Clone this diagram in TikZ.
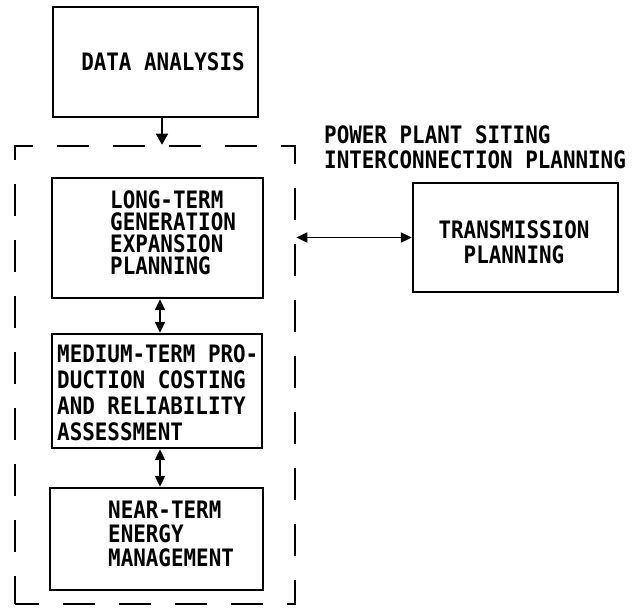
\documentclass[tikz,border=0pt]{standalone}
\usepackage{fontspec}
\newfontfamily\typefont[FakeStretch=0.87]{DejaVu Sans Mono Bold}
\usetikzlibrary{arrows.meta}

\begin{document}
\begin{tikzpicture}[x=1pt,y=-1pt]
\tikzset{block/.style={draw,line width=2.3pt},
         group/.style={draw,line width=2.6pt,dash pattern=on 32pt off 24pt,dash phase=8pt},
         txt/.style={inner sep=0pt,font=\typefont\fontsize{24}{#1}\selectfont},
         txt/.default=24,
         link/.style={line width=1.8pt,{Triangle[length=11pt,width=10pt]}-{Triangle[length=11pt,width=10pt]}},
         feed/.style={line width=1.8pt,-{Triangle[length=11pt,width=12pt]}}}
\useasboundingbox (0,0) rectangle (635,609);

% the boxes: name / centre / width / height
\foreach \name/\cx/\cy/\w/\h in {data/155.5/62/205/110, long/157.5/238/211/120,
    medium/157/391/210/114, near/156.5/539/213/102, trans/515.5/237.5/205/109}
{
    \node[block,minimum width=\w,minimum height=\h] (\name) at (\cx,\cy) {};
}
% the dashed frame round the three planning levels
\node[group,minimum width=280,minimum height=458] (frame) at (155,375) {};

% texts
\node[txt] (datatxt) at (163,62) {DATA ANALYSIS};
\node[txt=22,anchor=west,align=left] (longtxt) at (110,232.5) {LONG-TERM\\GENERATION\\EXPANSION\\PLANNING};
\node[txt=26,anchor=west,align=left] (mediumtxt) at (57,392.5) {MEDIUM-TERM PRO-\\DUCTION COSTING\\AND RELIABILITY\\ASSESSMENT};
\node[txt,anchor=west,align=left] (neartxt) at (108,534) {NEAR-TERM\\ENERGY\\MANAGEMENT};
\node[txt=25,align=center] (transtxt) at (514,242.5) {TRANSMISSION\\PLANNING};
\node[txt=25,anchor=west,align=left] (sitetxt) at (324,147.5) {POWER PLANT SITING\\INTERCONNECTION PLANNING};

% connectors
\draw[feed] ([xshift=6.5]data.south) -- ([xshift=6.5]data.south |- frame.north);
\draw[link] ([xshift=2.5]long.south) -- ([xshift=2.5]long.south |- medium.north);
\draw[link] ([xshift=3]medium.south) -- ([xshift=3]medium.south |- near.north);
\draw[link] (trans.west -| frame.east) -- (trans.west);
\end{tikzpicture}
\end{document}
